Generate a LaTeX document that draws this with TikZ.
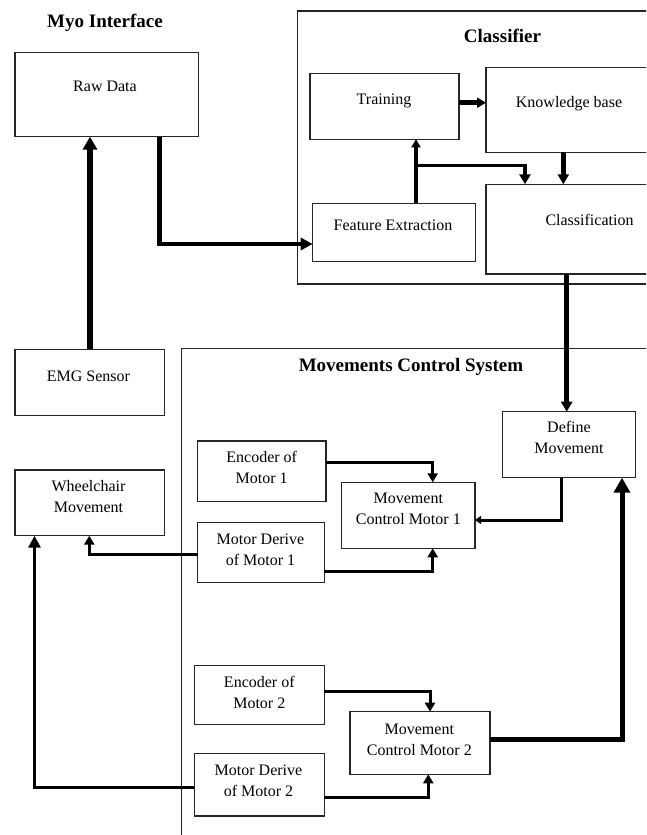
\documentclass[tikz,border=0pt]{standalone}
\usepackage{fontspec}
\setmainfont{Liberation Serif}
\usetikzlibrary{arrows.meta}
\begin{document}
\begin{tikzpicture}[x=1pt,y=-1pt,
  box/.style={draw=black!85, line width=1.2pt, inner sep=0pt, outer sep=0pt, rectangle, anchor=north west},
  lbl/.style={font=\fontsize{16}{21}\selectfont, align=center, inner sep=0pt},
  ttl/.style={font=\fontsize{19}{23}\selectfont\bfseries, inner sep=0pt},
  grp/.style={draw=black!85, line width=1.2pt},
  bigar/.style={line width=6.5pt, -{Triangle[length=13pt,width=14pt]}},
  thkar/.style={line width=4.8pt, -{Triangle[length=10pt,width=11pt]}},
  midar/.style={line width=3pt, -{Triangle[length=9pt,width=10pt]}},
]
\useasboundingbox (0,0) rectangle (646,835);
\clip (0,0) rectangle (646,835);

% group frames
\draw[grp] (670,11) -- (297.5,11) -- (297.5,284) -- (670,284);
\draw[grp] (670,348.3) -- (181.7,348.3) -- (181.7,860);

% titles
\node[ttl] (t-myo) at (105,22.7) {Myo Interface};
\node[ttl] (t-cls) at (502.5,36) {Classifier};
\node[ttl] (t-mcs) at (411,367.3) {Movements Control System};

% boxes
\node[box, minimum width=183.3pt, minimum height=84pt] (raw) at (15,52.7) {};
\node[box, minimum width=149.3pt, minimum height=66pt] (emg) at (15,349.3) {};
\node[box, minimum width=149.3pt, minimum height=65.7pt] (wheel) at (15,470) {};
\node[box, minimum width=149pt, minimum height=65.8pt] (train) at (310,73.5) {};
\node[box, minimum width=180pt, minimum height=84.6pt] (kb) at (486,67.7) {};
\node[box, minimum width=163pt, minimum height=58.4pt] (fe) at (312.7,203.3) {};
\node[box, minimum width=180pt, minimum height=89.7pt] (cls) at (486,184.3) {};
\node[box, minimum width=133.4pt, minimum height=66pt] (def) at (502.3,411.7) {};
\node[box, minimum width=128.3pt, minimum height=60.7pt] (enc1) at (197.7,441) {};
\node[box, minimum width=126.6pt, minimum height=60pt] (md1) at (197.7,522.3) {};
\node[box, minimum width=133.3pt, minimum height=66pt] (mcm1) at (341.7,482.3) {};
\node[box, minimum width=130pt, minimum height=59pt] (enc2) at (194.3,665.3) {};
\node[box, minimum width=130pt, minimum height=62.7pt] (md2) at (194.3,753.3) {};
\node[box, minimum width=140pt, minimum height=62.6pt] (mcm2) at (350,711.7) {};

% labels
\node[lbl] (t-raw) at (105,86) {Raw Data};
\node[lbl] (t-train) at (384,100.7) {Training};
\node[lbl] (t-kb) at (569,104) {Knowledge base};
\node[lbl] (t-fe) at (393,225) {Feature Extraction};
\node[lbl] (t-clsf) at (589.5,220) {Classification};
\node[lbl] (t-emg) at (88.5,376) {EMG Sensor};
\node[lbl] (t-wheel) at (88.5,497) {Wheelchair\\Movement};
\node[lbl] (t-def) at (569,437.2) {Define\\Movement};
\node[lbl] (t-enc1) at (261.7,467.8) {Encoder of\\Motor 1};
\node[lbl] (t-md1) at (260.5,549.5) {Motor Derive\\of Motor 1};
\node[lbl] (t-mcm1) at (408.3,508.7) {Movement\\Control Motor 1};
\node[lbl] (t-enc2) at (259.3,692.8) {Encoder of\\Motor 2};
\node[lbl] (t-md2) at (258.5,780.7) {Motor Derive\\of Motor 2};
\node[lbl] (t-mcm2) at (419.3,739.5) {Movement\\Control Motor 2};

% helper coordinates
\coordinate (emgx) at (90,0);
\coordinate (rawout) at (159.3,0);
\coordinate (feh) at (0,244);
\coordinate (fex) at (416,0);
\coordinate (brp) at (416,165.7);
\coordinate (clsx) at (525,0);
\coordinate (tky) at (0,102.7);
\coordinate (kbx) at (563.3,0);
\coordinate (cdx) at (566.7,0);
\coordinate (dmx) at (561,0);
\coordinate (dmy) at (0,520);
\coordinate (m1x) at (432.7,0);
\coordinate (e1y) at (0,462.7);
\coordinate (d1y) at (0,571.7);
\coordinate (w1y) at (0,554);
\coordinate (w1x) at (89.3,0);
\coordinate (e2y) at (0,691.7);
\coordinate (m2x) at (430,0);
\coordinate (d2y) at (0,797.3);
\coordinate (m2xb) at (428.3,0);
\coordinate (m2y) at (0,739);
\coordinate (dx2) at (622,0);
\coordinate (w2y) at (0,787.7);
\coordinate (w2x) at (34.5,0);

% connectors
\draw[bigar] (emg.north -| emgx) -- (raw.south -| emgx);
\draw[thkar, -{Triangle[length=12pt,width=12pt]}] (raw.south -| rawout) |- (fe.west |- feh);
\draw[thkar, -{Triangle[length=8pt,width=9pt]}] (fe.north -| fex) -- (train.south -| fex);
\draw[midar, line width=3.4pt, -{Triangle[length=10pt,width=11pt]}] (brp) -| (cls.north -| clsx);
\draw[thkar, -{Triangle[length=9pt,width=10pt]}] (train.east |- tky) -- (kb.west |- tky);
\draw[thkar] (kb.south -| kbx) -- (cls.north -| kbx);
\draw[thkar] (cls.south -| cdx) -- (def.north -| cdx);
\draw[midar, -{Triangle[length=6pt,width=8pt]}] (def.south -| dmx) |- (mcm1.east |- dmy);
\draw[midar] (enc1.east |- e1y) -| (mcm1.north -| m1x);
\draw[midar] (md1.east |- d1y) -| (mcm1.south -| m1x);
\draw[midar] (md1.west |- w1y) -| (wheel.south -| w1x);
\draw[midar] (enc2.east |- e2y) -| (mcm2.north -| m2x);
\draw[midar] (md2.east |- d2y) -| (mcm2.south -| m2xb);
\draw[line width=5pt, -{Triangle[length=15pt,width=16pt]}] (mcm2.east |- m2y) -| (def.south -| dx2);
\draw[midar, -{Triangle[length=12pt,width=12pt]}] (md2.west |- w2y) -| (wheel.south -| w2x);
\end{tikzpicture}
\end{document}
